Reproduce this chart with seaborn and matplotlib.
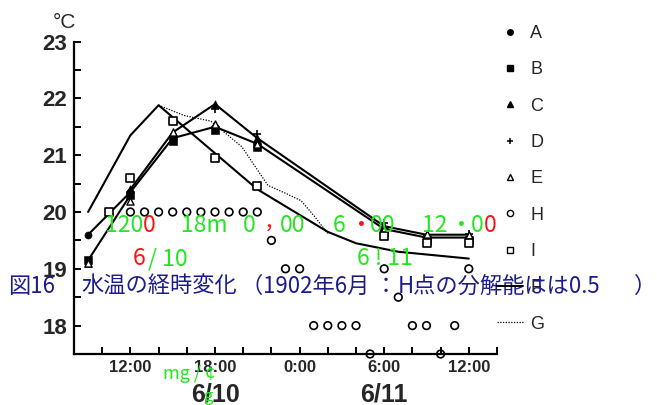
import seaborn as sns
import matplotlib.pyplot as plt
from matplotlib.lines import Line2D

# time is given in hours counted from 6/10 0:00
hours = [9, 12, 15, 18, 21, 30, 33, 36]
temp_a = [19.6, 20.35, 21.3, 21.5, 21.2, 19.7, 19.55, 19.55]
temp_b = [19.15, 20.3, 21.25, 21.45, 21.15, 19.65, 19.5, 19.5]
temp_c = [19.1, 20.4, 21.4, 21.9, 21.3, 19.75, 19.6, 19.6]
temp_e = [19.1, 20.2, 21.4, 21.55, 21.2, 19.7, 19.62, 19.6]

hours_d = [18, 21, 30, 33, 36]
temp_d = [21.82, 21.38, 19.8, 19.6, 19.62]

hours_h = [12, 13, 14, 15, 16, 17, 18, 19, 20, 21, 22, 23, 24,
           25, 26, 27, 28, 29, 30, 31, 32, 33, 34, 35, 36]
temp_h = [20.0, 20.0, 20.0, 20.0, 20.0, 20.0, 20.0, 20.0, 20.0, 20.0, 19.5, 19.0, 19.0,
          18.0, 18.0, 18.0, 18.0, 17.5, 19.0, 18.5, 18.0, 18.0, 17.5, 18.0, 19.0]

hours_i = [10.5, 12, 15, 18, 21, 30, 33, 36]
temp_i = [20.0, 20.6, 21.6, 20.95, 20.45, 19.57, 19.45, 19.45]

hours_f = [9, 12, 14, 21, 23, 26, 28, 31, 36]
temp_f = [20.0, 21.35, 21.88, 20.4, 20.1, 19.65, 19.45, 19.3, 19.18]

hours_g = [14, 15.8, 17.7, 19.9, 21.75, 23, 24.1, 25.1, 26]
temp_g = [21.88, 21.7, 21.6, 21.15, 20.47, 20.33, 20.2, 19.91, 19.62]

ytick_vals = [18, 19, 20, 21, 22, 23]
xtick_vals = [12, 18, 24, 30, 36]
xtick_labels = ['12:00', '18:00', '0:00', '6:00', '12:00']
date_pos = [18, 30]
date_labels = ['6/10', '6/11']

W, H = 657, 405
AX_TOP, AX_BOTTOM = 41.6, 354


def px(x, y):
    # pixel position -> figure fraction
    return x / W, 1 - y / H


sns.set_style('ticks')
plt.rcParams['font.family'] = ['Liberation Sans', 'DejaVu Sans']
cjk = ['Noto Sans CJK JP', 'DejaVu Sans']

fig = plt.figure(figsize=(W / 100, H / 100), dpi=100)
ax = fig.add_axes([74 / W, 1 - AX_BOTTOM / H, (497 - 74) / W, (AX_BOTTOM - AX_TOP) / H])

# lines (the drawing joins A all along, C from noon on, B only in the morning)
sns.lineplot(x=hours, y=temp_a, color='black', lw=1.5, ax=ax)
sns.lineplot(x=hours[1:], y=temp_c[1:], color='black', lw=1.5, ax=ax)
sns.lineplot(x=hours[:2], y=temp_b[:2], color='black', lw=1.5, ax=ax)
sns.lineplot(x=hours_f, y=temp_f, color='black', lw=1.5, ax=ax)
sns.lineplot(x=hours_g, y=temp_g, color='black', lw=0.9, linestyle=(0, (1, 1.2)), ax=ax)

# markers
sns.scatterplot(x=hours, y=temp_a, marker='o', s=26, color='black', edgecolor='black', ax=ax, zorder=4)
sns.scatterplot(x=hours, y=temp_b, marker='s', s=26, color='black', edgecolor='black', ax=ax, zorder=4)
sns.scatterplot(x=hours, y=temp_c, marker='^', s=30, color='black', edgecolor='black', ax=ax, zorder=4)
sns.scatterplot(x=hours_d, y=temp_d, marker='+', s=30, color='black', linewidth=1.2, ax=ax, zorder=4)
sns.scatterplot(x=hours, y=temp_e, marker='^', s=26, facecolor='white', edgecolor='black',
                linewidth=1.0, ax=ax, zorder=4)
sns.scatterplot(x=hours_h, y=temp_h, marker='o', s=30, facecolor='none', edgecolor='black',
                linewidth=1.2, ax=ax, zorder=4, clip_on=False)
sns.scatterplot(x=hours_i, y=temp_i, marker='s', s=30, facecolor='white', edgecolor='black',
                linewidth=1.2, ax=ax, zorder=4)

ax.set_xlim(8, 38)
ax.set_ylim(17.5, 23)
ax.set_xlabel('')
ax.set_ylabel('')
ax.set_yticks(ytick_vals)
ax.set_yticklabels([str(v) for v in ytick_vals], fontsize=16, fontweight='bold')
ax.set_yticks([17.5, 18.5, 19.5, 20.5, 21.5, 22.5], minor=True)
ax.set_xticks(xtick_vals)
ax.set_xticklabels(xtick_labels, fontsize=12, fontweight='bold')
ax.set_xticks([10, 14, 16, 20, 22, 26, 28, 32, 34, 38], minor=True)
ax.tick_params(which='both', direction='in', length=5, width=1.4, color='black')
ax.tick_params(axis='y', pad=5)
ax.tick_params(axis='x', pad=4)
for side in ('top', 'right'):
    ax.spines[side].set_visible(False)
for side in ('left', 'bottom'):
    ax.spines[side].set_linewidth(1.6)
    ax.spines[side].set_color('black')

# date labels under the time axis
date_y = -(394 - AX_BOTTOM) / (AX_BOTTOM - AX_TOP)
for xd, lab in zip(date_pos, date_labels):
    ax.text(xd, date_y, lab, transform=ax.get_xaxis_transform(), fontsize=18,
            fontweight='bold', ha='center', va='center')

fig.text(*px(53, 28), '°C', fontsize=15, ha='left', va='baseline')

# legend on the right
handles = [
    Line2D([], [], ls='none', marker='o', ms=4, color='black'),
    Line2D([], [], ls='none', marker='s', ms=4, color='black'),
    Line2D([], [], ls='none', marker='^', ms=4.5, color='black'),
    Line2D([], [], ls='none', marker='+', ms=5, mew=1.1, color='black'),
    Line2D([], [], ls='none', marker='^', ms=4.5, mfc='white', mec='black', mew=1),
    Line2D([], [], ls='none', marker='o', ms=4.5, mfc='white', mec='black', mew=1),
    Line2D([], [], ls='none', marker='s', ms=4.5, mfc='white', mec='black', mew=1),
    Line2D([], [], color='black', lw=1.4),
    Line2D([], [], color='black', lw=0.9, ls=(0, (1, 1.2))),
]
labels = ['A', 'B', 'C', 'D', 'E', 'H', 'I', 'F', 'G']
fig.legend(handles, labels, loc='upper left', bbox_to_anchor=px(497, 25), frameon=False,
           fontsize=13, handlelength=1.45, handletextpad=0.4, labelspacing=1.07,
           borderpad=0, borderaxespad=0)

# overlaid OCR text from the scanned figure
green = '#22e61e'
red = '#ff1010'
navy = '#1c1c8c'
ocr_pieces = [
    (105, 232, '120', green), (143, 232, '0', red), (181, 232, '18m', green),
    (243, 232, '0', green), (266, 228, ',', red), (280, 232, '00', green),
    (333, 232, '6', green), (350, 232, '・', red), (370, 232, '00', green),
    (422, 232, '12', green), (450, 232, '・', green), (471, 232, '0', green),
    (484, 232, '0', red),
    (133, 265, '6', red), (148, 265, '/ 10', green), (357, 265, '6 ! 11', green),
]
for x, y, s, c in ocr_pieces:
    fig.text(*px(x, y), s, color=c, fontsize=16.5, family=cjk, ha='left', va='baseline')

fig.text(*px(163, 379), 'mg / ¢', color=green, fontsize=13, family=cjk, ha='left', va='baseline')
fig.text(*px(203, 401), 'g', color=green, fontsize=12, family=cjk, ha='left', va='baseline')

caption = [
    (8, '図16'), (81, '水温の経時変化'), (240, '（'), (263, '1902年6月'),
    (375, '：'), (398, 'H点の分解能はは0.5'), (634, '）'),
]
for x, s in caption:
    fig.text(*px(x, 293), s, color=navy, fontsize=16, family=cjk, ha='left', va='baseline')

fig.savefig('out.png', dpi=100)
